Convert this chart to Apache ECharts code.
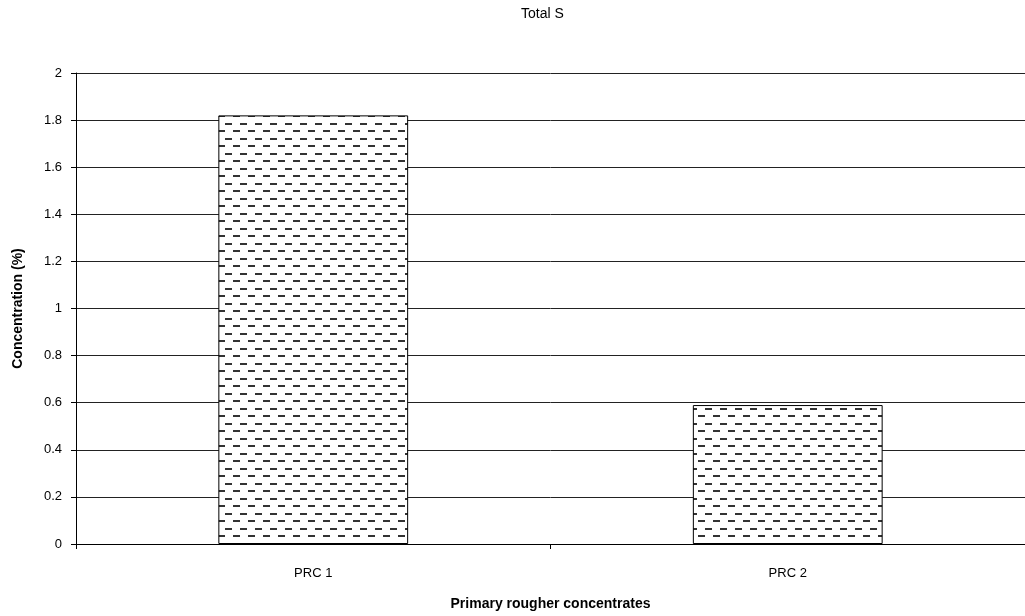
<!DOCTYPE html>
<html>
<head>
<meta charset="utf-8">
<script src="https://cdn.jsdelivr.net/npm/echarts@6/dist/echarts.min.js"></script>
<style>html,body{margin:0;padding:0;background:#fff;overflow:hidden;}#c{width:1025px;height:616px;}</style>
</head>
<body>
<div id="c"></div>
<script>
const categories = ['PRC 1', 'PRC 2'];
const values = [1.82, 0.59];
const yTicks = { min: 0, max: 2, interval: 0.2 };
const titleText = 'Total S';
const xName = 'Primary rougher concentrates';
const yName = 'Concentration (%)';

function makePattern() {
  const c = document.createElement('canvas');
  c.width = 15; c.height = 15;
  const g = c.getContext('2d');
  g.fillStyle = '#fff';
  g.fillRect(0, 0, 15, 15);
  g.fillStyle = '#333';
  g.fillRect(0, 3, 7, 2);
  g.fillRect(8, 10, 7, 2);
  return c;
}

const chart = echarts.init(document.getElementById('c'), null, { renderer: 'canvas' });
const font = 'Liberation Sans, Arial, sans-serif';
chart.setOption({
  animation: false,
  backgroundColor: '#fff',
  textStyle: { fontFamily: font },
  title: {
    text: titleText, left: 516, top: 2,
    textStyle: { fontFamily: font, fontSize: 14, fontWeight: 'normal', color: '#000' }
  },
  grid: { left: 76, top: 73, width: 970, height: 475, containLabel: false },
  xAxis: {
    type: 'category', data: categories,
    axisLine: { lineStyle: { color: '#000', width: 1 } },
    axisTick: { show: true, alignWithLabel: false, length: 5, lineStyle: { color: '#000' } },
    axisLabel: { color: '#000', fontSize: 13, margin: 23, fontFamily: font },
    name: xName, nameLocation: 'middle', nameGap: 53,
    nameTextStyle: { fontFamily: font, fontSize: 14, fontWeight: 'bold', color: '#000' }
  },
  yAxis: {
    type: 'value', min: yTicks.min, max: yTicks.max, interval: yTicks.interval,
    axisLine: { show: true, lineStyle: { color: '#000', width: 1 } },
    axisTick: { show: true, length: 5, lineStyle: { color: '#000' } },
    axisLabel: { color: '#000', fontSize: 13, margin: 14, fontFamily: font },
    splitLine: { show: true, lineStyle: { color: '#222', width: 1 } },
    name: yName, nameLocation: 'middle', nameGap: 51, nameRotate: 90,
    nameTextStyle: { fontFamily: font, fontSize: 14, fontWeight: 'bold', color: '#000' }
  },
  series: [{
    type: 'bar', data: values, barWidth: '40%',
    itemStyle: {
      color: { image: makePattern(), repeat: 'repeat' },
      borderColor: '#000', borderWidth: 1
    }
  }]
});
</script>
</body>
</html>
